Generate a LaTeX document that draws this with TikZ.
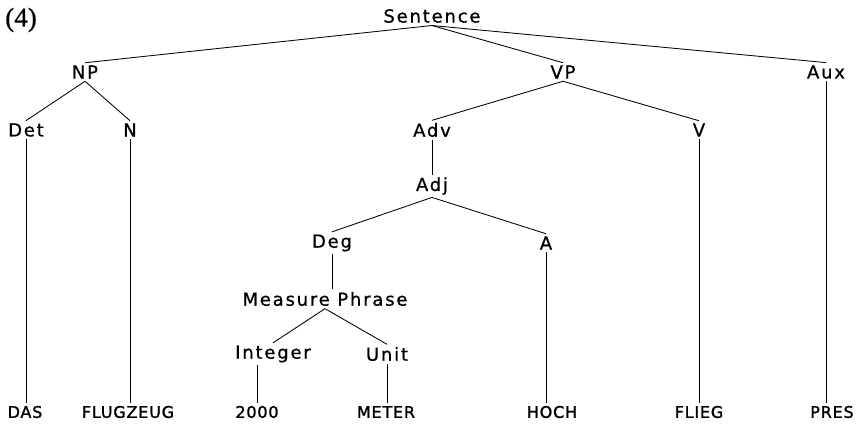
\documentclass[tikz,border=0pt]{standalone}
\usepackage{fontspec}
\setmainfont{DejaVu Sans}
\newfontfamily\catfont[LetterSpace=10,FakeBold=0.8]{DejaVu Sans}
\newfontfamily\leaffont[LetterSpace=5,FakeBold=1.5]{DejaVu Sans}
\newfontfamily\numfont[FakeBold=0.6]{Liberation Serif}
\begin{document}
\begin{tikzpicture}[x=1pt,y=-1pt,
  cat/.style={font=\catfont\fontsize{18}{20}\selectfont, inner sep=2.5pt},
  leaf/.style={font=\leaffont\fontsize{16}{18}\selectfont, inner sep=2.5pt},
  edge/.style={line width=0.85pt}]
\useasboundingbox (0,0) rectangle (859,423);
\node[font=\numfont\fontsize{27}{29}\selectfont] (num) at (21,20) {(4)};
\node[cat] (S) at (432,16) {Sentence};
\node[cat] (NP) at (85,72) {NP};
\node[cat] (VP) at (563,72) {VP};
\node[cat] (Aux) at (826,72) {Aux};
\node[cat] (Det) at (26,130) {Det};
\node[cat] (N) at (130,130) {N};
\node[cat] (Adv) at (432,130) {Adv};
\node[cat] (V) at (699,130) {V};
\node[cat] (Adj) at (432,186) {Adj};
\node[cat] (Deg) at (332,243) {Deg};
\node[cat] (A) at (546,243) {A};
\node[cat] (MP) at (325,299) {Measure Phrase};
\node[cat] (Int) at (273,354) {Integer};
\node[cat] (Unit) at (387,354) {Unit};
\node[leaf] (DAS) at (25,412) {DAS};
\node[leaf] (FLUG) at (128,412) {FLUGZEUG};
\node[leaf] (n2000) at (257,412) {2000};
\node[leaf] (METER) at (386,412) {METER};
\node[leaf] (HOCH) at (552,412) {HOCH};
\node[leaf] (FLIEG) at (699,412) {FLIEG};
\node[leaf] (PRES) at (832,412) {PRES};
\begin{scope}[edge]
\draw (S.south) -- (NP.north);
\draw (S.south) -- (VP.north);
\draw (S.south) -- (Aux.north);
\draw (NP.south) -- (Det.north);
\draw (NP.south) -- (N.north);
\draw (VP.south) -- (Adv.north);
\draw (VP.south) -- (V.north);
\draw (Adj.south) -- (Deg.north);
\draw (Adj.south) -- (A.north);
\draw (MP.south) -- (Int.north);
\draw (MP.south) -- (Unit.north);
\draw (Det.south) -- (Det.south |- DAS.north);
\draw (N.south) -- (N.south |- FLUG.north);
\draw (Adv.south) -- (Adj.north);
\draw (Deg.south) -- (Deg.south |- MP.north);
\draw (A.south) -- (A.south |- HOCH.north);
\draw (V.south) -- (FLIEG.north);
\draw (Aux.south) -- (Aux.south |- PRES.north);
\draw (n2000.north |- Int.south) -- (n2000.north);
\draw (Unit.south) -- (Unit.south |- METER.north);
\end{scope}
\end{tikzpicture}
\end{document}
